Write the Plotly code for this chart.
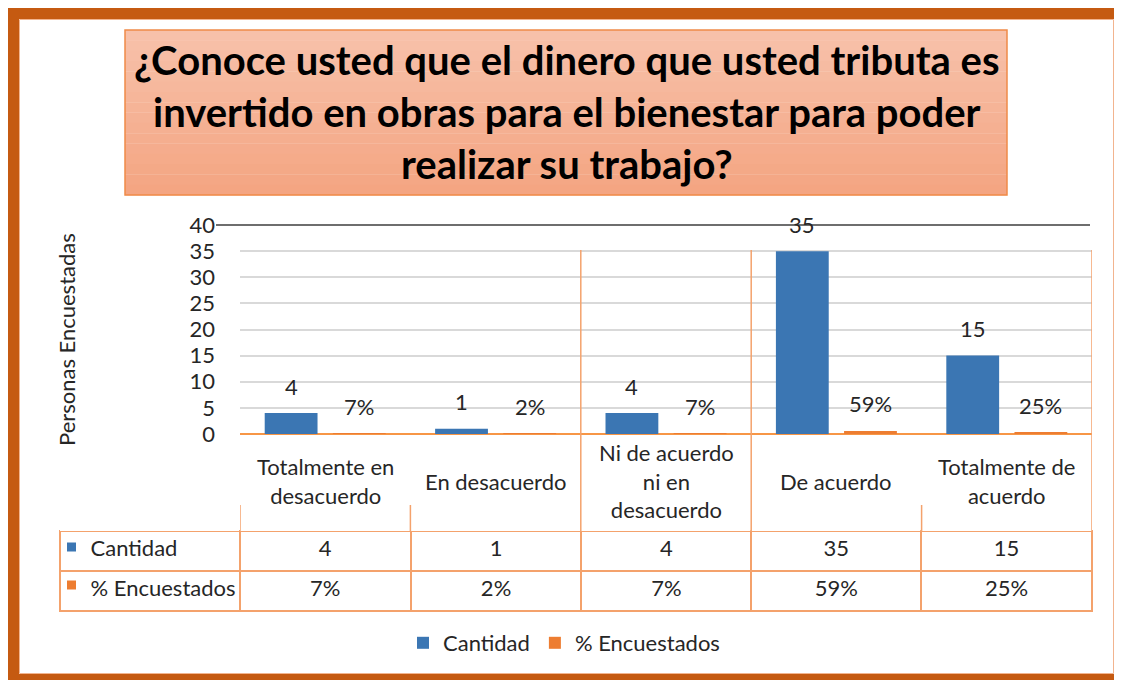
import plotly.graph_objects as go

# datos de la encuesta
categorias = ["Totalmente en<br>desacuerdo", "En desacuerdo",
              "Ni de acuerdo<br>ni en<br>desacuerdo", "De acuerdo",
              "Totalmente de<br>acuerdo"]
cantidad = [4, 1, 4, 35, 15]
porcentaje = [0.07, 0.02, 0.07, 0.59, 0.25]
series = ["Cantidad", "% Encuestados"]
y_ticks = [0, 5, 10, 15, 20, 25, 30, 35, 40]

titulo = ("¿Conoce usted que el dinero que usted tributa es<br>"
          "invertido en obras para el bienestar para poder<br>"
          "realizar su trabajo?")

# la pagina deja 8 px de margen en el body
OX, OY = 8, 8
W, H = 1114, 672
AZUL = "#3B76B3"
NARANJA = "#ED7D31"
LINEA = "#F4A26C"
TEXTO = "#262626"
FUENTE = "Lato, 'Open Sans', sans-serif"
FS = 22


def px(x):
    return (x - OX) / W


def py(y):
    return 1 - (y - OY) / H


x_pos = list(range(len(categorias)))
pct_txt = [f"{p:.0%}" for p in porcentaje]

fig = go.Figure()

fig.add_trace(go.Bar(
    x=x_pos, y=cantidad, name=series[0],
    width=0.31, offset=-0.355,
    marker=dict(color=AZUL, line=dict(width=0)),
))
fig.add_trace(go.Bar(
    x=x_pos, y=porcentaje, name=series[1],
    width=0.31, offset=0.045,
    marker=dict(color=NARANJA, line=dict(width=0)),
))

# tabla de datos debajo del grafico (sin cortes de linea en la primera columna)
etiquetas_tabla = ["\u00a0\u00a0\u00a0\u00a0" + s.replace(" ", "\u00a0") for s in series]
fig.add_trace(go.Table(
    domain=dict(x=[px(60), px(1092)], y=[py(630), py(515)]),
    columnwidth=[180, 171, 171, 170, 170, 171],
    header=dict(values=None, height=0, line=dict(width=0), fill=dict(color="white")),
    cells=dict(
        values=[etiquetas_tabla] + [[str(c), t] for c, t in zip(cantidad, pct_txt)],
        height=40,
        align=["left"] + ["center"] * len(cantidad),
        line=dict(color=LINEA, width=2),
        fill=dict(color="white"),
        font=dict(family=FUENTE, size=FS, color=TEXTO),
    ),
))

anotaciones = []
# etiquetas de datos
for i, (c, p, t) in enumerate(zip(cantidad, porcentaje, pct_txt)):
    anotaciones.append(dict(x=i - 0.2, y=c, xref="x", yref="y", text=str(c),
                            showarrow=False, xanchor="center", yanchor="middle",
                            yshift=27, font=dict(size=FS, color=TEXTO)))
    anotaciones.append(dict(x=i + 0.2, y=p, xref="x", yref="y", text=t,
                            showarrow=False, xanchor="center", yanchor="middle",
                            yshift=27, font=dict(size=FS, color=TEXTO)))
# nombres de categorias
for i, cat in enumerate(categorias):
    anotaciones.append(dict(x=i, y=py(481), xref="x", yref="paper", text=cat,
                            showarrow=False, xanchor="center", yanchor="middle",
                            font=dict(size=FS, color=TEXTO)))
# titulo del eje y
anotaciones.append(dict(x=px(66), y=py(340), xref="paper", yref="paper",
                        text="Personas Encuestadas", textangle=-90,
                        showarrow=False, xanchor="center", yanchor="middle",
                        font=dict(size=FS, color=TEXTO)))
# titulo
anotaciones.append(dict(x=px(567), y=py(112), xref="paper", yref="paper",
                        text=f"<b>{titulo}</b>", showarrow=False,
                        xanchor="center", yanchor="middle",
                        font=dict(size=40, color="black")))

formas = []
# caja del titulo con degradado
n = 16
top, bot = 30, 195
for k in range(n):
    f = k / (n - 1)
    r = round(247 + (244 - 247) * f)
    g = round(193 + (165 - 193) * f)
    b = round(170 + (130 - 170) * f)
    formas.append(dict(type="rect", xref="paper", yref="paper",
                       x0=px(125), x1=px(1007),
                       y0=py(top + (bot - top) * (k + 1) / n) - 0.0005,
                       y1=py(top + (bot - top) * k / n),
                       fillcolor=f"rgb({r},{g},{b})", line=dict(width=0),
                       layer="below"))
formas.append(dict(type="rect", xref="paper", yref="paper",
                   x0=px(125), x1=px(1007), y0=py(bot), y1=py(top),
                   line=dict(color="#F08A48", width=1.5), layer="below"))
# linea superior del eje (40)
formas.append(dict(type="line", xref="paper", yref="paper",
                   x0=px(216), x1=px(1090), y0=py(225), y1=py(225),
                   line=dict(color="#6E6E6E", width=2)))
# separadores de categorias
for xv, y0 in [(1.5, 250), (2.5, 250), (4.5, 250), (-0.5, 505), (0.5, 505), (3.5, 505)]:
    formas.append(dict(type="line", xref="x", yref="paper",
                       x0=xv, x1=xv, y0=py(y0), y1=py(531),
                       line=dict(color=LINEA, width=1.5)))
# claves de color en la tabla
for color, yc in [(AZUL, 547), (NARANJA, 585)]:
    formas.append(dict(type="rect", xref="paper", yref="paper",
                       x0=px(67), x1=px(76), y0=py(yc + 4.5), y1=py(yc - 4.5),
                       fillcolor=color, line=dict(width=0)))
# marco exterior
formas.append(dict(type="rect", xref="paper", yref="paper",
                   x0=px(13), x1=px(1120), y0=py(680), y1=py(13),
                   line=dict(color="#C55A11", width=12)))
formas.append(dict(type="rect", xref="paper", yref="paper",
                   x0=px(19.5), x1=px(1113.5), y0=py(673.5), y1=py(19.5),
                   line=dict(color="#F2B48F", width=1)))

fig.update_layout(
    width=W, height=H,
    margin=dict(l=0, r=0, t=0, b=0),
    paper_bgcolor="white", plot_bgcolor="white",
    font=dict(family=FUENTE, size=FS, color=TEXTO),
    barmode="group",
    xaxis=dict(domain=[px(240), px(1092)], range=[-0.5, 4.5],
               showticklabels=False, showgrid=False, zeroline=False,
               showline=False, fixedrange=True, automargin=False),
    yaxis=dict(domain=[py(434), py(225)], range=[0, 40], tickvals=y_ticks,
               showgrid=True, gridcolor="#D9D9D9", gridwidth=2,
               zeroline=True, zerolinecolor="#F79646", zerolinewidth=2,
               showline=False, ticks="", ticklabelstandoff=24,
               tickfont=dict(size=FS, color=TEXTO), fixedrange=True,
               automargin=False),
    legend=dict(orientation="h", x=px(564), y=py(643), xanchor="center",
                yanchor="middle", font=dict(size=FS, color=TEXTO),
                traceorder="normal"),
    annotations=anotaciones,
    shapes=formas,
)

fig.write_html("out.html")
